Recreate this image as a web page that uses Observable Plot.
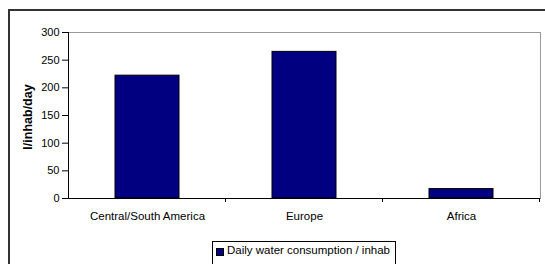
<!DOCTYPE html>
<html>
<head>
<meta charset="utf-8">
<script src="https://cdn.jsdelivr.net/npm/d3@7"></script>
<script src="https://cdn.jsdelivr.net/npm/@observablehq/plot@0.6"></script>
<style>
  body { margin: 0; background: #fff; }
  #wrap { position: relative; width: 545px; height: 264px; overflow: hidden; font-family: "Liberation Sans", Arial, sans-serif; }
  #frame { position: absolute; left: 8px; top: 9px; width: 600px; height: 300px; border-left: 2px solid #333; border-top: 2px solid #333; box-sizing: border-box; }
  #chart { position: absolute; left: 0; top: 0; }
  #legend { position: absolute; left: 212px; top: 241px; width: 184px; height: 30px; border: 1px solid #000; box-sizing: border-box; font-size: 11.5px; color: #000; background: #fff; }
  #legend .sw { position: absolute; left: 3px; top: 6px; width: 6px; height: 6px; background: #000080; border: 0.5px solid #000; }
  #legend .tx { position: absolute; left: 14px; top: 2px; white-space: nowrap; }
</style>
</head>
<body>
<div id="wrap">
  <div id="frame"></div>
  <div id="chart"></div>
  <div id="legend"><span class="sw"></span><span class="tx"></span></div>
</div>
<script>
const categories = ["Central/South America", "Europe", "Africa"];
const values = [222, 265, 17];
const yTicks = [0, 50, 100, 150, 200, 250, 300];
const yLabel = "l/inhab/day";
const seriesName = "Daily water consumption / inhab";

const data = categories.map((c, i) => ({category: c, value: values[i]}));

const plot = Plot.plot({
  width: 545,
  height: 264,
  marginLeft: 68,
  marginRight: 5,
  marginTop: 32,
  marginBottom: 66,
  style: {fontFamily: '"Liberation Sans", Arial, sans-serif', fontSize: "11.5px", background: "transparent", color: "#000"},
  x: {domain: categories, paddingInner: 0.593, paddingOuter: 0.2965, label: null},
  y: {domain: [0, 300], label: null},
  marks: [
    Plot.frame({stroke: "#999", strokeWidth: 1}),
    Plot.barY(data, {x: "category", y: "value", fill: "#000080", stroke: "#000", strokeWidth: 1}),
    Plot.ruleY([0], {stroke: "#000", strokeWidth: 1}),
    Plot.frame({anchor: "left", stroke: "#000", strokeWidth: 1}),
    Plot.axisY({ticks: yTicks, tickSize: 6, tickPadding: 3, label: null, fontSize: "11px"}),
    Plot.axisX({tickSize: 0, tickPadding: 13, label: null})
  ]
});

// boundary ticks between categories, from the band scale
const xs = plot.scale("x");
const ys = plot.scale("y");
const y0 = ys.apply(0);
const step = xs.step;
const bw = xs.bandwidth;
const svg = d3.select(plot);
svg.append("g").attr("stroke", "#000")
  .selectAll("line").data(categories).join("line")
  .attr("x1", c => xs.apply(c) + bw + (step - bw) / 2)
  .attr("x2", c => xs.apply(c) + bw + (step - bw) / 2)
  .attr("y1", y0).attr("y2", y0 + 4);

// y label, rotated, positioned from the y scale
svg.append("text")
  .attr("transform", `translate(29,${(ys.apply(0) + ys.apply(300)) / 2 + 2}) rotate(-90)`)
  .attr("text-anchor", "middle")
  .attr("dominant-baseline", "middle")
  .attr("font-weight", "bold")
  .attr("font-size", "12.5px")
  .attr("fill", "#000")
  .text(yLabel);

document.getElementById("chart").appendChild(plot);
document.querySelector("#legend .tx").textContent = seriesName;
</script>
</body>
</html>
